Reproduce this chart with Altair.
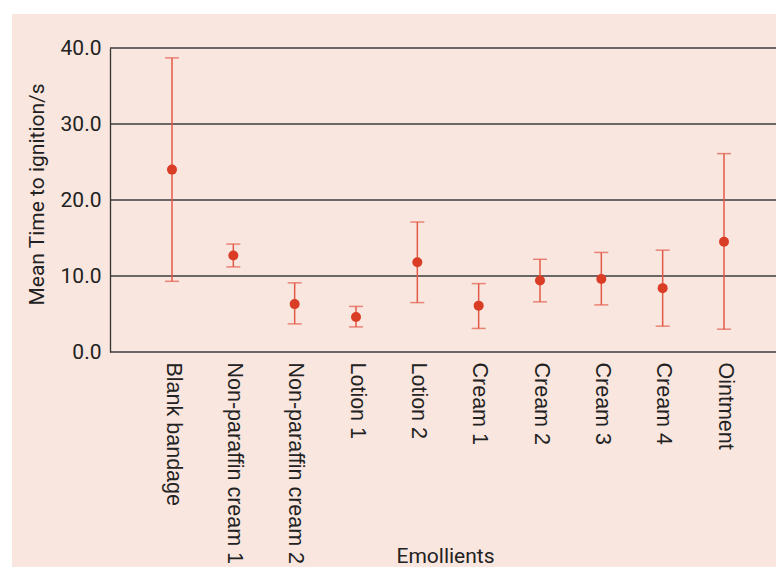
import altair as alt
import pandas as pd

categories = ["Blank bandage", "Non-paraffin cream 1", "Non-paraffin cream 2",
              "Lotion 1", "Lotion 2", "Cream 1", "Cream 2", "Cream 3",
              "Cream 4", "Ointment"]
means = [24.0, 12.7, 6.3, 4.6, 11.8, 6.1, 9.4, 9.6, 8.4, 14.5]
upper = [38.7, 14.2, 9.1, 6.0, 17.1, 9.0, 12.2, 13.1, 13.4, 26.1]
lower = [9.3, 11.2, 3.7, 3.3, 6.5, 3.1, 6.6, 6.2, 3.4, 3.0]
y_ticks = [0, 10, 20, 30, 40]
grid_values = [0, 10, 20, 30, 40]

df = pd.DataFrame({"cat": categories, "mean": means, "hi": upper, "lo": lower})

PINK = "#f9e6de"
RED = "#d93d26"
BAR = "#e25a47"
COND = "Roboto"

x_axis = alt.Axis(title="Emollients", labelAngle=90, labelAlign="left",
                  labelBaseline="middle", labelPadding=10, ticks=False,
                  labelFont="Liberation Sans", labelFontSize=21.5,
                  labelColor="#222222", labelLimit=0, zindex=1, domain=False,
                  titleFont=COND, titleFontSize=21,
                  titleFontWeight="normal", titleColor="#222222",
                  titleX=335, titleY=204, titleBaseline="middle")

y_axis = alt.Axis(title="Mean Time to ignition/s", values=y_ticks,
                  format=".1f", ticks=False, labelPadding=9, grid=False,
                  labelFont=COND, labelFontSize=21,
                  labelColor="#222222", zindex=1,
                  domainColor="#333333", domainWidth=1.3,
                  titleFont=COND, titleFontSize=21,
                  titleFontWeight="normal", titleColor="#222222",
                  titleX=-73, titleY=146, titleBaseline="middle")

y_scale = alt.Scale(domain=[0, 40], nice=False)
x_scale = alt.Scale(type="point", padding=0, range=[62, 614])

bg = alt.Chart(pd.DataFrame({"a": [0]})).mark_rect(color=PINK).encode(
    x=alt.value(-98), x2=alt.value(674), y=alt.value(-34), y2=alt.value(531))

grid = alt.Chart(pd.DataFrame({"g": grid_values})).mark_rule(
    color="#3d3d3d", strokeWidth=1.3).encode(y=alt.Y("g:Q"))

base = alt.Chart(df)

rules = base.mark_rule(color=BAR, strokeWidth=1.5).encode(
    x=alt.X("cat:N", sort=categories, scale=x_scale, axis=x_axis),
    y=alt.Y("lo:Q", scale=y_scale, axis=y_axis),
    y2="hi:Q")

cap_hi = base.mark_tick(color=BAR, thickness=1.5, size=14, orient="horizontal").encode(
    x=alt.X("cat:N", sort=categories), y=alt.Y("hi:Q"))
cap_lo = base.mark_tick(color=BAR, thickness=1.5, size=14, orient="horizontal").encode(
    x=alt.X("cat:N", sort=categories), y=alt.Y("lo:Q"))

points = base.mark_point(filled=True, color=RED, opacity=1, size=100).encode(
    x=alt.X("cat:N", sort=categories), y=alt.Y("mean:Q"))

chart = alt.layer(bg, grid, rules, cap_hi, cap_lo, points).properties(
    width=666, height=304,
    autosize=alt.AutoSizeParams(type="none"),
    padding={"left": 102, "top": 40, "right": 0, "bottom": 215},
    background="white",
).configure_view(stroke=None)

chart.save("out.html", embed_options={"renderer": "svg", "actions": False})
